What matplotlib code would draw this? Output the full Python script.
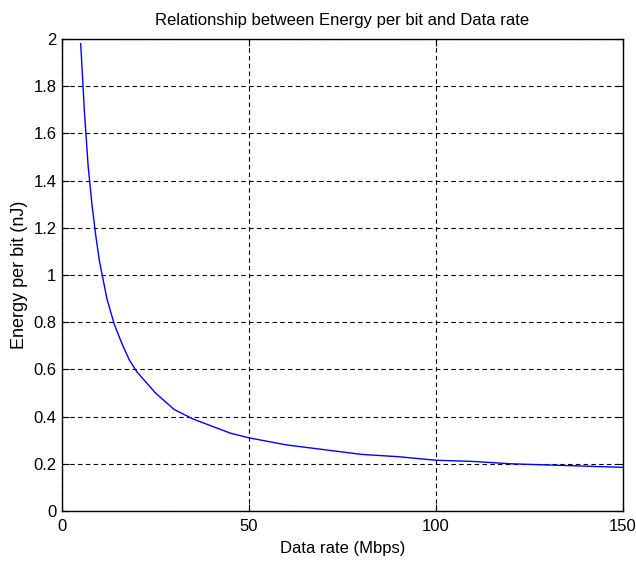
import matplotlib
matplotlib.use("Agg")
import matplotlib.pyplot as plt

# values
data_rate = [5, 6, 7, 8, 9, 10, 12, 14, 16, 18, 20, 25, 30, 35, 40, 45, 50,
             60, 70, 80, 90, 100, 110, 120, 130, 140, 150]
energy_per_bit = [1.98, 1.69, 1.46, 1.30, 1.17, 1.06, 0.90, 0.79, 0.71, 0.64,
                  0.59, 0.50, 0.43, 0.39, 0.36, 0.33, 0.31, 0.28, 0.26, 0.24,
                  0.23, 0.215, 0.21, 0.20, 0.195, 0.19, 0.185]

x_ticks = [0, 50, 100, 150]
y_ticks = [0, 0.2, 0.4, 0.6, 0.8, 1, 1.2, 1.4, 1.6, 1.8, 2]
y_labels = ["0", "0.2", "0.4", "0.6", "0.8", "1", "1.2", "1.4", "1.6", "1.8", "2"]

plt.rcParams['font.family'] = ['Liberation Sans', 'DejaVu Sans']

fig = plt.figure(figsize=(6.36, 5.64), dpi=100)
ax = fig.add_axes([62 / 636, 1 - 511 / 564, (623 - 62) / 636, (511 - 39) / 564])

ax.plot(data_rate, energy_per_bit, color=(0, 0, 1), linewidth=1)

ax.set_xlim(0, 150)
ax.set_ylim(0, 2)
ax.set_xticks(x_ticks)
ax.set_yticks(y_ticks)
ax.set_yticklabels(y_labels)
ax.tick_params(direction='in', length=5, color='black', labelsize=12,
               top=True, right=True)
ax.tick_params(axis='x', pad=6)
ax.tick_params(axis='y', pad=4)
ax.grid(True, color='black', linestyle=(0, (4, 3)), linewidth=0.8)

for s in ax.spines.values():
    s.set_linewidth(1)

ax.set_title("Relationship between Energy per bit and Data rate", fontsize=12, pad=10)
ax.set_xlabel("Data rate (Mbps)", fontsize=12, labelpad=5)
ax.set_ylabel("Energy per bit (nJ)", fontsize=13, labelpad=4)

fig.savefig("out.png", dpi=100)
